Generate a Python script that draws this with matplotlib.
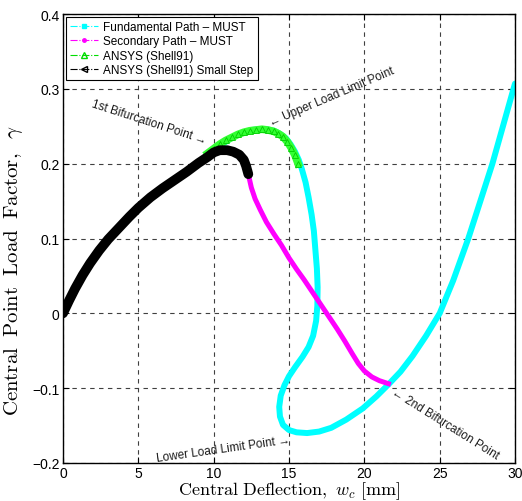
import numpy as np
import matplotlib.pyplot as plt
from matplotlib.lines import Line2D

plt.rcParams['font.family'] = ['Liberation Sans', 'DejaVu Sans']
plt.rcParams['mathtext.fontset'] = 'cm'

# Fundamental path - MUST (cyan)
fund_w = [0.0, 0.4, 0.8, 1.3, 1.8, 2.4, 3.0, 3.7, 4.4, 5.0, 5.8, 6.6, 7.4, 8.2,
          9.0, 9.6, 10.0, 10.5, 11.0, 11.5, 12.0, 12.5, 13.0, 13.5, 14.0, 14.4,
          14.8, 15.1, 15.4, 15.65, 15.85, 16.1, 16.3, 16.5, 16.65, 16.75, 16.85,
          16.9, 16.88, 16.8, 16.6, 16.3, 15.9, 15.4, 15.0, 14.7, 14.45, 14.35,
          14.4, 14.6, 15.0, 15.5, 16.2, 17.0, 17.8, 18.8, 19.9, 20.8, 21.6, 22.4,
          23.2, 24.1, 25.0, 25.9, 26.9, 27.7, 28.5, 29.2, 29.9, 30.0]
fund_g = [0.0, 0.017, 0.033, 0.051, 0.067, 0.084, 0.099, 0.114, 0.129, 0.141,
          0.155, 0.167, 0.178, 0.189, 0.201, 0.209, 0.216, 0.225, 0.232, 0.238,
          0.242, 0.245, 0.246, 0.246, 0.244, 0.240, 0.234, 0.226, 0.216, 0.205,
          0.193, 0.175, 0.155, 0.132, 0.110, 0.085, 0.060, 0.035, 0.010, -0.010,
          -0.030, -0.045, -0.058, -0.072, -0.084, -0.096, -0.110, -0.125, -0.138,
          -0.149, -0.156, -0.159, -0.160, -0.158, -0.153, -0.142, -0.127, -0.111,
          -0.095, -0.078, -0.057, -0.030, 0.0, 0.044, 0.100, 0.150, 0.200, 0.250,
          0.300, 0.307]

# Secondary path - MUST (magenta)
sec_w = [12.3, 12.5, 12.75, 13.1, 13.5, 14.0, 14.5, 15.0, 15.5, 16.0, 16.5, 17.0,
         17.6, 18.2, 18.7, 19.2, 19.6, 20.0, 20.5, 21.0, 21.6]
sec_g = [0.186, 0.168, 0.153, 0.138, 0.122, 0.106, 0.091, 0.074, 0.059, 0.045,
         0.030, 0.015, -0.003, -0.021, -0.037, -0.054, -0.067, -0.077, -0.085,
         -0.090, -0.094]

# ANSYS (Shell91)
ans_w = [9.6, 10.0, 10.4, 10.8, 11.2, 11.6, 12.0, 12.4, 12.8, 13.2, 13.6, 14.0,
         14.3, 14.6, 14.9, 15.15, 15.4, 15.6]
ans_g = [0.214, 0.220, 0.226, 0.231, 0.235, 0.239, 0.242, 0.244, 0.245, 0.246,
         0.245, 0.243, 0.240, 0.236, 0.229, 0.221, 0.211, 0.200]

# ANSYS (Shell91) small step
small_w = [0.0, 0.4, 0.8, 1.3, 1.8, 2.4, 3.0, 3.7, 4.4, 5.0, 5.8, 6.6, 7.4, 8.2,
           9.0, 9.6, 10.0, 10.4, 10.9, 11.3, 11.7, 12.0, 12.15, 12.3]
small_g = [0.0, 0.017, 0.033, 0.051, 0.067, 0.084, 0.099, 0.114, 0.129, 0.141,
           0.155, 0.167, 0.178, 0.189, 0.201, 0.209, 0.215, 0.218, 0.218, 0.216,
           0.212, 0.205, 0.197, 0.186]

fig = plt.figure(figsize=(5.22, 5.02), dpi=100)
ax = fig.add_axes([0.1207, 0.0757, 0.8659, 0.8944])

ax.plot(fund_w, fund_g, '-', color='cyan', lw=4.3, solid_joinstyle='round',
        solid_capstyle='round')
ax.plot(sec_w, sec_g, '-', color='magenta', lw=3.6, solid_joinstyle='round')
ax.plot(ans_w, ans_g, '-', color='#33ff33', lw=5.5, solid_joinstyle='round')
ax.plot(ans_w, ans_g, '^', color='#00cc00', mfc='none', ms=4, mew=0.6, lw=0)
ax.plot(small_w, small_g, '-', color='black', lw=7, solid_joinstyle='round',
        solid_capstyle='round')

ax.set_xlim(0, 30)
ax.set_ylim(-0.2, 0.4)
ax.set_xticks(np.arange(0, 31, 5))
ax.set_yticks(np.arange(-0.2, 0.41, 0.1))
ax.set_yticklabels(['\u22120.2', '\u22120.1', '0', '0.1', '0.2', '0.3', '0.4'])
ax.tick_params(direction='in', labelsize=10, length=4, width=0.8, pad=2.5,
               top=True, right=True)
ax.grid(True, color='0.25', linestyle=(0, (4, 4)), lw=0.8)
for s in ax.spines.values():
    s.set_linewidth(1.0)

ax.set_xlabel(r'$\mathrm{Central\ Deflection,}\ w_c\ [\mathrm{mm}]$', fontsize=13)
ax.xaxis.set_label_coords(0.5, -0.037)
ax.set_ylabel(r'$\mathrm{Central\ \;Point\ \;Load\ \;Factor,}\ \;\gamma$',
              fontsize=15)
ax.yaxis.set_label_coords(-0.085, 0.43)

handles = [
    Line2D([], [], color='cyan', ls='-.', lw=0.8, marker='s', ms=2.5),
    Line2D([], [], color='magenta', ls='-.', lw=0.8, marker='o', ms=2.5),
    Line2D([], [], color='#00dd00', ls='-.', lw=0.8, marker='^', mfc='none', ms=5),
    Line2D([], [], color='black', ls='-.', lw=0.8, marker='<', mfc='none', ms=5),
]
labels = ['Fundamental Path \u2013 MUST', 'Secondary Path \u2013 MUST',
          'ANSYS (Shell91)', 'ANSYS (Shell91) Small Step']
leg = ax.legend(handles, labels, loc='upper left', fontsize=8.5, fancybox=False,
                edgecolor='black', framealpha=1, handlelength=2.4,
                borderaxespad=0.25, labelspacing=0.2, handletextpad=0.4,
                borderpad=0.35)
leg.get_frame().set_linewidth(0.8)

tkw = dict(fontsize=8.5, color='0.1', family=['Liberation Sans', 'DejaVu Sans'],
           rotation_mode='anchor')
ax.text(9.4, 0.224, '1st Bifurcation Point \u2192', ha='right', va='bottom',
        rotation=-18, **tkw)
ax.text(13.9, 0.248, '\u2190 Upper Load Limit Point', ha='left', va='bottom',
        rotation=23, **tkw)
ax.text(15.0, -0.161, 'Lower Load Limit Point \u2192', ha='right', va='top',
        rotation=8, **tkw)
ax.text(22.1, -0.096, '\u2190 2nd Bifurcation Point', ha='left', va='top',
        rotation=-32, **tkw)

fig.savefig('out.png', dpi=100)
